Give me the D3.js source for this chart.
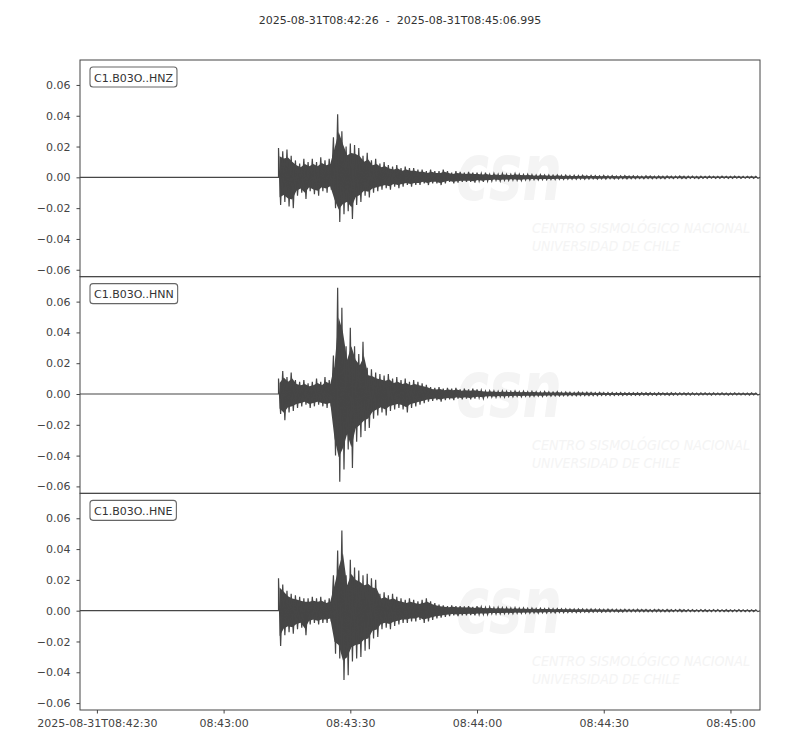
<!DOCTYPE html>
<html>
<head>
<meta charset="utf-8">
<script src="https://cdn.jsdelivr.net/npm/d3@7"></script>
<style>
  body { margin: 0; background: #fff; }
  text { font-family: "DejaVu Sans", sans-serif; }
</style>
</head>
<body>
<div id="chart"></div>
<script>
// trace ids and timing (seconds after 2025-08-31T08:42:26)
var channels = ["C1.B03O..HNZ", "C1.B03O..HNN", "C1.B03O..HNE"];
var titleText = "2025-08-31T08:42:26  -  2025-08-31T08:45:06.995";
var traceLength = 160.995;
var onsetTime = 47;

var tickSeconds = [4, 34, 64, 94, 124, 154];
var tickLabels = ["2025-08-31T08:42:30", "08:43:00", "08:43:30", "08:44:00", "08:44:30", "08:45:00"];
var yTicks = [-0.06, -0.04, -0.02, 0, 0.02, 0.04, 0.06];

// per-second peak (up) and trough (down), from t=47 to t=160
var hnzUp = [0.019,0.017,0.018,0.014,0.011,0.009,0.012,0.010,0.012,0.010,
  0.013,0.011,0.012,0.026,0.041,0.030,0.020,0.022,0.021,0.019,
  0.014,0.016,0.011,0.012,0.009,0.010,0.008,0.007,0.008,0.006,
  0.007,0.006,0.006,0.005,
  0.005,0.004,0.005,0.004,0.004,0.005,0.004,0.003,0.004,0.0035,
  0.003,0.0035,0.003,0.003,0.0025,0.003,0.002,0.0025,0.002,0.0025,
  0.002,0.002,0.0025,0.002,0.0018,0.002,0.0017,0.0015,0.0018,0.0016,
  0.0015,0.0014,0.0016,0.0013,0.0014,0.0012,0.0013,0.0012,0.0014,0.0011,
  0.0012,0.0011,0.001,0.0012,0.001,0.0011,0.0009,0.001,0.0011,0.0009,
  0.001,0.0009,0.0008,0.001,0.0009,0.0008,0.0009,0.0008,0.0009,0.0008,
  0.0008,0.0009,0.0007,0.0008,0.0008,0.0007,0.0008,0.0007,0.0008,0.0007,
  0.0007,0.0008,0.0007,0.0007,0.0008,0.0007,0.0006,0.0007,0.0007,0.0006];
var hnzDown = [-0.018,-0.016,-0.019,-0.020,-0.012,-0.010,-0.014,-0.009,-0.011,-0.012,
  -0.009,-0.010,-0.008,-0.020,-0.029,-0.024,-0.022,-0.027,-0.018,-0.016,
  -0.012,-0.013,-0.010,-0.009,-0.008,-0.007,-0.008,-0.006,-0.007,-0.006,
  -0.005,-0.006,-0.005,-0.005,
  -0.004,-0.005,-0.004,-0.004,-0.005,-0.004,-0.003,-0.004,-0.0035,-0.003,
  -0.003,-0.003,-0.0035,-0.0025,-0.003,-0.0025,-0.0025,-0.002,-0.0025,-0.002,
  -0.002,-0.0018,-0.002,-0.0022,-0.0017,-0.0018,-0.0016,-0.0017,-0.0015,-0.0016,
  -0.0014,-0.0015,-0.0013,-0.0014,-0.0012,-0.0013,-0.0012,-0.0011,-0.0012,-0.0011,
  -0.001,-0.0012,-0.001,-0.0011,-0.0009,-0.001,-0.001,-0.0009,-0.001,-0.0009,
  -0.0009,-0.0008,-0.0009,-0.0008,-0.0009,-0.0008,-0.0008,-0.0009,-0.0007,-0.0008,
  -0.0007,-0.0008,-0.0008,-0.0007,-0.0007,-0.0008,-0.0007,-0.0007,-0.0006,-0.0007,
  -0.0007,-0.0006,-0.0007,-0.0007,-0.0006,-0.0007,-0.0006,-0.0006,-0.0007,-0.0006];

var hnnUp = [0.010,0.015,0.011,0.014,0.009,0.008,0.009,0.007,0.008,0.010,
  0.008,0.011,0.009,0.025,0.069,0.056,0.031,0.043,0.031,0.026,
  0.034,0.017,0.016,0.014,0.013,0.012,0.013,0.010,0.011,0.009,
  0.010,0.008,0.009,0.008,
  0.007,0.006,0.0045,0.004,0.0045,0.0035,0.004,0.0035,0.004,0.003,
  0.0035,0.003,0.0035,0.003,0.0025,0.002,0.0022,0.002,0.0018,0.002,
  0.0018,0.0017,0.002,0.0016,0.0018,0.0015,0.0017,0.0015,0.0014,0.0016,
  0.0014,0.0013,0.0015,0.0012,0.0013,0.0012,0.0011,0.0013,0.0011,0.0012,
  0.0011,0.001,0.0011,0.001,0.0009,0.001,0.0009,0.001,0.0009,0.0008,
  0.0009,0.0008,0.0008,0.0009,0.0008,0.0007,0.0008,0.0008,0.0007,0.0008,
  0.0007,0.0007,0.0008,0.0007,0.0007,0.0006,0.0007,0.0007,0.0006,0.0007,
  0.0006,0.0007,0.0006,0.0006,0.0007,0.0006,0.0006,0.0006,0.0007,0.0006];
var hnnDown = [-0.013,-0.017,-0.012,-0.011,-0.009,-0.008,-0.007,-0.009,-0.008,-0.007,
  -0.008,-0.009,-0.008,-0.040,-0.057,-0.049,-0.036,-0.048,-0.031,-0.028,
  -0.024,-0.022,-0.016,-0.014,-0.012,-0.014,-0.011,-0.010,-0.009,-0.010,
  -0.012,-0.009,-0.008,-0.007,
  -0.006,-0.005,-0.0045,-0.004,-0.005,-0.004,-0.0035,-0.004,-0.003,-0.0035,
  -0.003,-0.0035,-0.003,-0.0025,-0.003,-0.002,-0.002,-0.0022,-0.0018,-0.002,
  -0.0017,-0.0018,-0.0016,-0.0018,-0.0015,-0.0016,-0.0015,-0.0014,-0.0016,-0.0013,
  -0.0014,-0.0012,-0.0013,-0.0012,-0.0012,-0.0011,-0.0012,-0.0011,-0.001,-0.0011,
  -0.001,-0.001,-0.0009,-0.001,-0.0009,-0.0009,-0.0008,-0.0009,-0.0008,-0.0009,
  -0.0008,-0.0008,-0.0007,-0.0008,-0.0007,-0.0008,-0.0007,-0.0007,-0.0008,-0.0007,
  -0.0007,-0.0006,-0.0007,-0.0007,-0.0006,-0.0007,-0.0006,-0.0006,-0.0007,-0.0006,
  -0.0006,-0.0006,-0.0007,-0.0006,-0.0006,-0.0006,-0.0006,-0.0007,-0.0006,-0.0006];

var hneUp = [0.021,0.017,0.013,0.011,0.010,0.009,0.008,0.008,0.009,0.008,
  0.009,0.007,0.008,0.023,0.039,0.052,0.023,0.033,0.028,0.026,
  0.023,0.024,0.021,0.020,0.011,0.012,0.010,0.011,0.009,0.008,
  0.007,0.008,0.007,0.006,
  0.007,0.008,0.006,0.005,0.004,0.0035,0.003,0.0035,0.003,0.003,
  0.0028,0.003,0.0025,0.003,0.0025,0.0022,0.0025,0.002,0.0022,0.002,
  0.002,0.0018,0.002,0.0017,0.0018,0.0016,0.0017,0.0015,0.0016,0.0014,
  0.0015,0.0013,0.0014,0.0012,0.0013,0.0012,0.0011,0.0012,0.0011,0.001,
  0.0011,0.001,0.001,0.0009,0.001,0.0009,0.0009,0.0008,0.0009,0.0008,
  0.0008,0.0009,0.0008,0.0008,0.0007,0.0008,0.0008,0.0007,0.0008,0.0007,
  0.0007,0.0008,0.0007,0.0007,0.0007,0.0006,0.0007,0.0007,0.0006,0.0007,
  0.0007,0.0006,0.0007,0.0006,0.0006,0.0007,0.0006,0.0006,0.0006,0.0006];
var hneDown = [-0.023,-0.016,-0.014,-0.015,-0.012,-0.011,-0.016,-0.009,-0.008,-0.009,
  -0.008,-0.008,-0.007,-0.028,-0.031,-0.045,-0.042,-0.033,-0.031,-0.030,
  -0.026,-0.025,-0.018,-0.017,-0.012,-0.011,-0.012,-0.010,-0.009,-0.008,
  -0.008,-0.007,-0.007,-0.006,
  -0.008,-0.007,-0.006,-0.005,-0.0045,-0.004,-0.0035,-0.003,-0.0035,-0.003,
  -0.003,-0.0028,-0.003,-0.0025,-0.0025,-0.0025,-0.002,-0.0022,-0.002,-0.002,
  -0.0018,-0.002,-0.0017,-0.0018,-0.0016,-0.0016,-0.0015,-0.0016,-0.0014,-0.0015,
  -0.0013,-0.0014,-0.0012,-0.0013,-0.0012,-0.0011,-0.0012,-0.0011,-0.001,-0.0011,
  -0.001,-0.0009,-0.001,-0.0009,-0.0009,-0.0008,-0.0009,-0.0009,-0.0008,-0.0008,
  -0.0008,-0.0007,-0.0008,-0.0007,-0.0008,-0.0007,-0.0007,-0.0008,-0.0007,-0.0007,
  -0.0006,-0.0007,-0.0007,-0.0006,-0.0007,-0.0006,-0.0006,-0.0007,-0.0006,-0.0006,
  -0.0006,-0.0006,-0.0007,-0.0006,-0.0006,-0.0006,-0.0006,-0.0006,-0.0006,-0.0006];

var traceUps = [hnzUp, hnnUp, hneUp];
var traceDowns = [hnzDown, hnnDown, hneDown];

var width = 800, height = 750;
var margin = {top: 60, right: 40, bottom: 40, left: 80};
var plotW = width - margin.left - margin.right;
var panelH = (height - margin.top - margin.bottom) / channels.length;
var ink = "#444";
var traceColor = "#464646";
var coreShare = 0.72;   // solid part of the band, spikes drawn on top reach the full peaks

var svg = d3.select("#chart").append("svg")
  .attr("width", width)
  .attr("height", height);

svg.append("text")
  .attr("x", width / 2)
  .attr("y", 24)
  .attr("text-anchor", "middle")
  .attr("xml:space", "preserve")
  .style("font-size", "11px")
  .style("fill", "#333")
  .style("white-space", "pre")
  .text(titleText);

var x = d3.scaleLinear().domain([0, traceLength]).range([0, plotW]);
var y = d3.scaleLinear().domain([-0.0645, 0.0762]).range([panelH, 0]);

var fmt = d3.format(".2f");

// one row per second: time, peak, trough
var buildRows = function(up, down) {
  return up.map(function(u, i) {
    return {t: onsetTime + i, up: u, down: down[i]};
  });
};

// zigzag between each second's peak and trough, flat line before the onset
var buildPoints = function(rows) {
  var pts = [[0, 0], [onsetTime, 0]];
  rows.forEach(function(r) {
    pts.push([r.t, r.up]);
    pts.push([r.t + 0.5, r.down]);
  });
  pts.push([traceLength, 0]);
  return pts;
};

var band = d3.area()
  .x(function(d) { return x(d.t + 0.25); })
  .y0(function(d) { return y(d.down * coreShare); })
  .y1(function(d) { return y(d.up * coreShare); });

var line = d3.line()
  .x(function(d) { return x(d[0]); })
  .y(function(d) { return y(d[1]); });

channels.forEach(function(ch, k) {
  var g = svg.append("g")
    .attr("transform", "translate(" + margin.left + "," + (margin.top + k * panelH) + ")");

  // faint CSN watermark
  var wm = g.append("text").style("fill", "#f4f4f4").style("font-style", "italic");
  wm.append("tspan")
    .attr("x", 376).attr("y", 140)
    .attr("textLength", 106).attr("lengthAdjust", "spacingAndGlyphs")
    .style("font-size", "80px").style("font-weight", "bold")
    .text("csn");
  wm.append("tspan")
    .attr("x", 452).attr("y", 173)
    .attr("textLength", 218).attr("lengthAdjust", "spacingAndGlyphs")
    .style("font-size", "14px")
    .text("CENTRO SISMOLÓGICO NACIONAL");
  wm.append("tspan")
    .attr("x", 452).attr("y", 191)
    .attr("textLength", 148).attr("lengthAdjust", "spacingAndGlyphs")
    .style("font-size", "14px")
    .text("UNIVERSIDAD DE CHILE");

  var rows = buildRows(traceUps[k], traceDowns[k]);

  g.append("path")
    .datum(rows)
    .attr("d", band)
    .attr("fill", traceColor)
    .attr("stroke", "none");

  g.append("path")
    .datum(buildPoints(rows))
    .attr("d", line)
    .attr("fill", "none")
    .attr("stroke", traceColor)
    .attr("stroke-width", 1.2);

  var yAxis = g.append("g")
    .call(d3.axisLeft(y).tickValues(yTicks).tickSize(3.5).tickPadding(6)
      .tickFormat(function(d) { return fmt(d).replace("-", "\u2212"); }));
  yAxis.select(".domain").remove();
  yAxis.selectAll("line").attr("stroke", ink);
  yAxis.selectAll("text").style("font-size", "11px").style("fill", ink)
    .style("font-family", "DejaVu Sans, sans-serif");

  g.append("rect")
    .attr("width", plotW).attr("height", panelH)
    .attr("fill", "none").attr("stroke", ink).attr("stroke-width", 1);

  // channel label box
  var box = g.append("rect");
  var lab = g.append("text")
    .attr("x", 14).attr("y", 21.5)
    .style("font-size", "11px").style("fill", "#333")
    .text(ch);
  var bw = lab.node().getComputedTextLength();
  box.attr("x", 10).attr("y", 7)
    .attr("width", bw + 8).attr("height", 20)
    .attr("rx", 3).attr("ry", 3)
    .attr("fill", "#fff").attr("stroke", "#666").attr("stroke-width", 1.1);

  if (k === channels.length - 1) {
    var xAxis = g.append("g")
      .attr("transform", "translate(0," + panelH + ")")
      .call(d3.axisBottom(x).tickValues(tickSeconds).tickSize(3.5).tickPadding(6)
        .tickFormat(function(d, i) { return tickLabels[i]; }));
    xAxis.select(".domain").remove();
    xAxis.selectAll("line").attr("stroke", ink);
    xAxis.selectAll("text").style("font-size", "11px").style("fill", ink)
      .style("font-family", "DejaVu Sans, sans-serif");
  }
});
</script>
</body>
</html>
